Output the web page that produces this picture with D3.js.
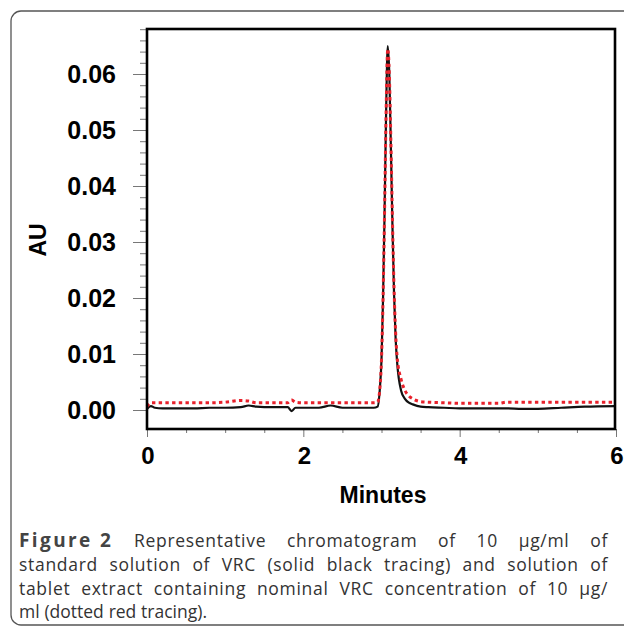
<!DOCTYPE html>
<html>
<head>
<meta charset="utf-8">
<script src="https://cdn.jsdelivr.net/npm/d3@7"></script>
<style>
  body { margin: 0; background: #fff; }
  svg { display: block; }
</style>
</head>
<body>
<div id="plot"></div>
<script>
// retention time (minutes) shared by both tracings
var times = [0, 0.05, 0.1, 0.2, 0.4, 0.6, 0.8, 1.0, 1.2, 1.3, 1.4, 1.6, 1.8, 1.85, 1.9, 2.0, 2.2, 2.35, 2.5, 2.7, 2.9, 2.95,
             2.98, 3.0, 3.02, 3.04, 3.06, 3.08, 3.10, 3.12, 3.14, 3.16, 3.18, 3.2, 3.25, 3.3, 3.35, 3.4, 3.5,
             3.6, 3.8, 4.0, 4.2, 4.5, 4.6, 4.8, 5.0, 5.3, 5.6, 6.0];
// standard solution (solid black)
var standardAU = [0.0002, 0.0007, 0.0004, 0.0003, 0.0003, 0.0003, 0.0004, 0.0004, 0.0005, 0.0008, 0.0006, 0.0005, 0.0005, -0.0002, 0.0004, 0.0004, 0.0004, 0.0008, 0.0004, 0.0004, 0.0004, 0.0006,
                  0.004, 0.009, 0.020, 0.036, 0.054, 0.065, 0.060, 0.047, 0.033, 0.021, 0.013, 0.0085, 0.0035, 0.002, 0.0013, 0.001, 0.0006,
                  0.0005, 0.0004, 0.0003, 0.0003, 0.0003, 0.0003, 0.0002, 0.0002, 0.0004, 0.0006, 0.0007];
// tablet extract (dotted red)
var tabletAU = [0.0006, 0.0013, 0.0013, 0.0013, 0.0013, 0.0013, 0.0013, 0.0014, 0.0017, 0.0016, 0.0013, 0.0013, 0.0013, 0.0018, 0.0014, 0.0013, 0.0013, 0.0013, 0.0013, 0.0013, 0.0013, 0.0014,
                0.004, 0.009, 0.020, 0.036, 0.054, 0.0645, 0.060, 0.048, 0.034, 0.022, 0.014, 0.0095, 0.0055, 0.0035, 0.0025, 0.002, 0.0015,
                0.0014, 0.0013, 0.0012, 0.0012, 0.0012, 0.0014, 0.0014, 0.0014, 0.0014, 0.0014, 0.0014];

var xTickLabels = [0, 2, 4, 6];
var yTickLabels = [0, 0.01, 0.02, 0.03, 0.04, 0.05, 0.06];

var captionBold = "Figure 2";
var captionLines = [
  "Representative chromatogram of 10 µg/ml of",
  "standard solution of VRC (solid black tracing) and solution of",
  "tablet extract containing nominal VRC concentration of 10 µg/",
  "ml (dotted red tracing)."
];

var totalWidth = 624, totalHeight = 627;
var frame = {left: 147, top: 29, right: 615, bottom: 429};

var svg = d3.select("#plot").append("svg")
    .attr("width", totalWidth)
    .attr("height", totalHeight);

// outer rounded panel
svg.append("rect")
    .attr("x", 11).attr("y", 11)
    .attr("width", 660).attr("height", 614)
    .attr("rx", 10)
    .style("fill", "none")
    .style("stroke", "#555")
    .style("stroke-width", 1.3);

var x = d3.scaleLinear().domain([0, 6]).range([frame.left, frame.right + 1]);
var y = d3.scaleLinear().domain([0, 0.06]).range([410, 74]);

// y ticks: minor every 0.002, labelled every 0.01
var yMinor = d3.range(0, 35).map(function(i) { return i * 0.002; });
var yAxis = d3.axisLeft(y).tickValues(yMinor).tickSize(7).tickFormat("");
svg.append("g")
    .attr("transform", "translate(" + frame.left + ",0)")
    .call(yAxis)
    .call(function(g) {
      g.select(".domain").remove();
      g.selectAll(".tick line").style("stroke", "#777");
      g.selectAll(".tick line").filter(function(d) { return Math.abs(d * 100 - Math.round(d * 100)) < 1e-6; })
          .attr("x2", -14);
    });
svg.append("g").selectAll("text")
    .data(yTickLabels)
    .join("text")
    .attr("x", 116)
    .attr("y", function(d) { return y(d); })
    .attr("dy", "0.36em")
    .attr("text-anchor", "end")
    .style("font", "bold 25px 'Liberation Sans', Arial, sans-serif")
    .text(function(d) { return d3.format(".2f")(d); });

// x ticks: minor every 0.5, labelled every 2
var xMinor = d3.range(0, 13).map(function(i) { return i * 0.5; });
var xAxis = d3.axisBottom(x).tickValues(xMinor).tickSize(4).tickFormat("");
svg.append("g")
    .attr("transform", "translate(0," + frame.bottom + ")")
    .call(xAxis)
    .call(function(g) {
      g.select(".domain").remove();
      g.selectAll(".tick line").style("stroke", "#777");
      g.selectAll(".tick line").filter(function(d) { return d % 2 === 0; }).attr("y2", 8);
    });
svg.append("g").selectAll("text")
    .data(xTickLabels)
    .join("text")
    .attr("x", function(d) { return x(d) + 1; })
    .attr("y", 464)
    .attr("text-anchor", "middle")
    .style("font", "bold 24px 'Liberation Sans', Arial, sans-serif")
    .text(function(d) { return d; });

// tracings
var line = d3.line()
    .x(function(d) { return x(d[0]); })
    .y(function(d) { return y(d[1]); })
    .curve(d3.curveMonotoneX);

svg.append("path")
    .datum(d3.zip(times, standardAU))
    .attr("d", line)
    .style("fill", "none")
    .style("stroke", "#111")
    .style("stroke-width", 2.2);

svg.append("path")
    .datum(d3.zip(times, tabletAU))
    .attr("d", line)
    .style("fill", "none")
    .style("stroke", "#e8212b")
    .style("stroke-width", 3)
    .style("stroke-dasharray", "3.4,3.3");

// plot frame
svg.append("rect")
    .attr("x", frame.left).attr("y", frame.top)
    .attr("width", frame.right - frame.left)
    .attr("height", frame.bottom - frame.top)
    .style("fill", "none")
    .style("stroke", "#000")
    .style("stroke-width", 2.6);

// axis titles
svg.append("text")
    .attr("transform", "translate(46,240) rotate(-90)")
    .attr("text-anchor", "middle")
    .style("font", "bold 23px 'Liberation Sans', Arial, sans-serif")
    .text("AU");

svg.append("text")
    .attr("x", 383).attr("y", 503)
    .attr("text-anchor", "middle")
    .style("font", "bold 23px 'Liberation Sans', Arial, sans-serif")
    .text("Minutes");

// caption, first three lines justified (a little letter spacing, rest in word gaps)
var capLeft = 19, capRight = 608, capSize = 17.5;
var baselines = [547, 571, 595, 618];
captionLines.forEach(function(str, i) {
  var items = [];
  if (i === 0) items.push({t: captionBold, bold: true});
  str.split(" ").forEach(function(w) { items.push({t: w, bold: false}); });
  var texts = svg.append("g").selectAll("text")
      .data(items)
      .join("text")
      .attr("y", baselines[i])
      .style("font-family", "'Open Sans', sans-serif")
      .style("font-size", function(d) { return (d.bold ? capSize + 1.5 : capSize) + "px"; })
      .style("font-weight", function(d) { return d.bold ? "bold" : "normal"; })
      .style("fill", function(d) { return d.bold ? "#444" : "#333"; })
      .style("letter-spacing", function(d) { return d.bold ? "2.4px" : null; })
      .text(function(d) { return d.t; });
  var space = 4.8;
  if (i < 3) {
    var w0 = [];
    texts.each(function() { w0.push(this.getComputedTextLength()); });
    var chars = d3.sum(items, function(d) { return d.bold ? 0 : d.t.length; });
    var spare = capRight - capLeft - d3.sum(w0) - space * (items.length - 1);
    var ls = Math.min(0.7, Math.max(0, spare / chars));
    texts.filter(function(d) { return !d.bold; }).style("letter-spacing", ls + "px");
  }
  var widths = [];
  texts.each(function() { widths.push(this.getComputedTextLength()); });
  var gap = i < 3 ? (capRight - capLeft - d3.sum(widths)) / (items.length - 1) : space;
  var pos = capLeft;
  texts.each(function(d, j) {
    d3.select(this).attr("x", pos);
    pos += widths[j] + gap;
  });
});
</script>
</body>
</html>
